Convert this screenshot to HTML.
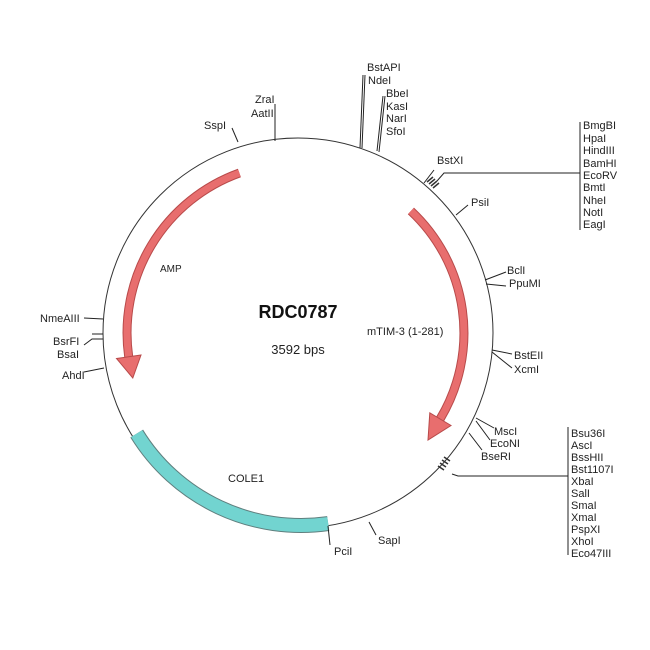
<!DOCTYPE html>
<html><head><meta charset="utf-8"><style>
html,body{margin:0;padding:0;background:#fff;}
svg{display:block;font-family:"Liberation Sans",Arial,sans-serif;}
text{font-size:11px;fill:#222;}
</style></head><body>
<svg width="650" height="650" viewBox="0 0 650 650">
<rect width="650" height="650" fill="#fff"/>
<circle cx="298" cy="333" r="195" fill="none" stroke="#333" stroke-width="1"/>
<!-- COLE1 -->
<path d="M136.7,433.6 A193,193 0 0 0 328.2,523.6" fill="none" stroke="#5f7f7e" stroke-width="15"/>
<path d="M136.7,433.6 A193,193 0 0 0 328.2,523.6" fill="none" stroke="#72d4d0" stroke-width="13"/>
<!-- AMP -->
<path d="M239.4,173 A170,170 0 0 0 128.7,356.7" fill="none" stroke="#b84a4a" stroke-width="9"/>
<path d="M239.4,173 A170,170 0 0 0 128.7,356.7" fill="none" stroke="#e86e6e" stroke-width="7"/>
<polygon points="132.8,378 141,355 116.5,358.5" fill="#e86e6e" stroke="#b84a4a" stroke-width="1"/>
<!-- mTIM -->
<path d="M410.9,210.9 A167,167 0 0 1 440.1,419" fill="none" stroke="#b84a4a" stroke-width="9"/>
<path d="M410.9,210.9 A167,167 0 0 1 440.1,419" fill="none" stroke="#e86e6e" stroke-width="7"/>
<polygon points="428,440 429.8,412.8 451,425.5" fill="#e86e6e" stroke="#b84a4a" stroke-width="1"/>

<g stroke="#222" stroke-width="1" fill="none">
<!-- top -->
<path d="M360,148 L363,75 M362,148 L365,75"/>
<path d="M377,151 L383,96 M379,152 L385,96"/>
<path d="M275,141 L275,104"/>
<path d="M238,142 L232,128"/>
<!-- BstXI -->
<path d="M424,183 L434,170"/>
<path d="M437,181 L444,173 L580,173 M580,122 L580,230"/>
<!-- PsiI -->
<path d="M456,215 L468,205"/>
<!-- BclI PpuMI -->
<path d="M485,280 L506,272 M486,284 L506,286"/>
<!-- BstEII XcmI -->
<path d="M492,350 L512,354 M492,352 L512,368"/>
<!-- MscI EcoNI BseRI -->
<path d="M476,418 L494,428 M476,421 L490,440 M469,433 L482,450"/>
<!-- lower cluster -->
<path d="M452,474 L458,476 L568,476 M568,427 L568,555"/>
<!-- SapI PciI -->
<path d="M369,522 L376,535"/>
<path d="M328,526 L330,545"/>
<!-- left -->
<path d="M103,319 L84,318"/>
<path d="M103,334 L92,334 M103,339 L92,339 L84,345"/>
<path d="M104,368 L84,372"/>
</g>
<!-- hatch marks -->
<g stroke="#333" stroke-width="1.5">
<path d="M427,182 l6,-5 M429,184 l6,-5 M431,186 l6,-5 M433,188 l6,-5"/>
<path d="M438,466 l6,4 M440,463 l6,4 M442,460 l6,4 M444,457 l6,4"/>
</g>

<text x="367" y="71">BstAPI</text>
<text x="368" y="84">NdeI</text>
<text x="386" y="97">BbeI</text>
<text x="386" y="110">KasI</text>
<text x="386" y="122">NarI</text>
<text x="386" y="135">SfoI</text>
<text x="255" y="103">ZraI</text>
<text x="251" y="117">AatII</text>
<text x="204" y="129">SspI</text>
<text x="437" y="164">BstXI</text>
<text x="471" y="206">PsiI</text>
<g>
<text x="583" y="129">BmgBI</text>
<text x="583" y="142">HpaI</text>
<text x="583" y="154">HindIII</text>
<text x="583" y="167">BamHI</text>
<text x="583" y="179">EcoRV</text>
<text x="583" y="191">BmtI</text>
<text x="583" y="204">NheI</text>
<text x="583" y="216">NotI</text>
<text x="583" y="228">EagI</text>
</g>
<text x="507" y="274">BclI</text>
<text x="509" y="287">PpuMI</text>
<text x="514" y="359">BstEII</text>
<text x="514" y="373">XcmI</text>
<text x="494" y="435">MscI</text>
<text x="490" y="447">EcoNI</text>
<text x="481" y="460">BseRI</text>
<g>
<text x="571" y="437">Bsu36I</text>
<text x="571" y="449">AscI</text>
<text x="571" y="461">BssHII</text>
<text x="571" y="473">Bst1107I</text>
<text x="571" y="485">XbaI</text>
<text x="571" y="497">SalI</text>
<text x="571" y="509">SmaI</text>
<text x="571" y="521">XmaI</text>
<text x="571" y="533">PspXI</text>
<text x="571" y="545">XhoI</text>
<text x="571" y="557">Eco47III</text>
</g>
<text x="378" y="544">SapI</text>
<text x="334" y="555">PciI</text>
<text x="40" y="322">NmeAIII</text>
<text x="53" y="345">BsrFI</text>
<text x="57" y="358">BsaI</text>
<text x="62" y="379">AhdI</text>

<text x="160" y="272" style="font-size:10px">AMP</text>
<text x="367" y="335" style="font-size:11px">mTIM-3 (1-281)</text>
<text x="228" y="482" style="font-size:11px">COLE1</text>
<text x="298" y="318" text-anchor="middle" style="font-size:18px;font-weight:bold;fill:#111">RDC0787</text>
<text x="298" y="354" text-anchor="middle" style="font-size:13px">3592 bps</text>
</svg>
</body></html>
